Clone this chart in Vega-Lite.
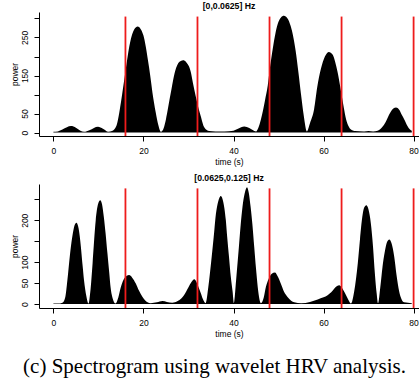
{
  "$schema": "https://vega.github.io/schema/vega-lite/v6.json",
  "padding": {"left": 10, "top": 2, "right": 0, "bottom": 5},
  "spacing": 8,
  "title": {"text": "(c) Spectrogram using wavelet HRV analysis.", "orient": "bottom", "anchor": "middle", "offset": 18, "font": "Liberation Serif", "fontSize": 21, "fontWeight": "normal", "color": "#000"},
  "datasets": {
    "p1": [
      {"t":0,"v":2},{"t":1,"v":3},{"t":2,"v":8},{"t":3,"v":14},{"t":3.9,"v":17},{"t":5,"v":13},{"t":6,"v":5},{"t":6.8,"v":2},
      {"t":8,"v":6},{"t":9,"v":12},{"t":9.9,"v":15},{"t":11,"v":10},{"t":12.2,"v":2},{"t":13,"v":4},{"t":14,"v":18},
      {"t":15,"v":80},{"t":15.5,"v":120},{"t":16,"v":160},{"t":17,"v":235},{"t":18,"v":272},{"t":18.7,"v":279},{"t":19.5,"v":270},
      {"t":20,"v":255},{"t":21,"v":190},{"t":21.5,"v":150},{"t":22,"v":105},{"t":22.7,"v":55},{"t":23.3,"v":20},{"t":23.9,"v":2},
      {"t":24.5,"v":12},{"t":25,"v":35},{"t":26,"v":100},{"t":27,"v":160},{"t":28,"v":186},{"t":28.8,"v":190},{"t":29.5,"v":185},
      {"t":30.5,"v":160},{"t":31,"v":130},{"t":31.6,"v":96},{"t":32,"v":75},{"t":32.7,"v":44},{"t":33.5,"v":14},{"t":34.6,"v":4},
      {"t":36,"v":3},{"t":38,"v":3},{"t":40,"v":5},{"t":41,"v":10},{"t":42.4,"v":16},{"t":43.5,"v":12},{"t":45,"v":3},
      {"t":45.5,"v":12},{"t":46.1,"v":35},{"t":47,"v":85},{"t":47.6,"v":123},{"t":48.2,"v":180},{"t":48.7,"v":219},{"t":49.3,"v":260},
      {"t":49.8,"v":285},{"t":50.5,"v":302},{"t":51.2,"v":307},{"t":52,"v":300},{"t":52.7,"v":280},{"t":53.3,"v":250},{"t":53.8,"v":215},
      {"t":54.4,"v":160},{"t":55,"v":100},{"t":55.6,"v":45},{"t":56.3,"v":3},{"t":57,"v":25},{"t":57.9,"v":61},{"t":58.6,"v":120},
      {"t":59.4,"v":167},{"t":60.3,"v":200},{"t":61.2,"v":212},{"t":62,"v":205},{"t":62.6,"v":185},{"t":63.1,"v":160},{"t":63.6,"v":128},
      {"t":64,"v":100},{"t":64.5,"v":65},{"t":65,"v":35},{"t":65.5,"v":18},{"t":66.1,"v":8},{"t":67,"v":4},{"t":69,"v":3},{"t":70,"v":4},
      {"t":71,"v":3},{"t":72,"v":5},{"t":73,"v":14},{"t":73.8,"v":28},{"t":74.8,"v":52},{"t":75.5,"v":63},{"t":76.1,"v":66},
      {"t":76.8,"v":60},{"t":77.4,"v":46},{"t":77.9,"v":35},{"t":78.6,"v":18},{"t":79.2,"v":8},{"t":79.6,"v":5}
    ],
    "p2": [
      {"t":0,"v":1},{"t":1,"v":1},{"t":2,"v":3},{"t":2.6,"v":15},{"t":3.1,"v":57},{"t":3.6,"v":110},{"t":4.2,"v":161},{"t":4.7,"v":188},
      {"t":5.1,"v":194},{"t":5.6,"v":180},{"t":6.1,"v":137},{"t":6.5,"v":90},{"t":6.8,"v":57},{"t":7.3,"v":20},{"t":7.8,"v":1},
      {"t":8.2,"v":30},{"t":8.7,"v":97},{"t":9.4,"v":200},{"t":9.9,"v":238},{"t":10.4,"v":248},{"t":10.8,"v":238},{"t":11.2,"v":208},
      {"t":11.6,"v":168},{"t":12,"v":121},{"t":12.4,"v":75},{"t":12.7,"v":40},{"t":13.2,"v":12},{"t":13.8,"v":1},{"t":14.4,"v":15},
      {"t":15,"v":41},{"t":15.8,"v":62},{"t":16.8,"v":69},{"t":17.5,"v":63},{"t":18.3,"v":49},{"t":19,"v":32},{"t":19.8,"v":17},
      {"t":20.9,"v":4},{"t":21.6,"v":2},{"t":23,"v":4},{"t":24.2,"v":7},{"t":25.2,"v":5},{"t":26.4,"v":3},{"t":27.6,"v":7},
      {"t":28.4,"v":13},{"t":29,"v":21},{"t":30,"v":40},{"t":30.7,"v":53},{"t":31.3,"v":59},{"t":31.8,"v":52},{"t":32.3,"v":38},
      {"t":32.7,"v":27},{"t":33.2,"v":12},{"t":33.8,"v":2},{"t":34.4,"v":40},{"t":35,"v":97},{"t":35.6,"v":160},{"t":36.1,"v":216},
      {"t":36.6,"v":245},{"t":37.2,"v":258},{"t":37.7,"v":245},{"t":38.3,"v":200},{"t":38.6,"v":160},{"t":39,"v":113},{"t":39.4,"v":65},
      {"t":39.8,"v":30},{"t":40.1,"v":2},{"t":40.6,"v":60},{"t":41.2,"v":137},{"t":41.6,"v":190},{"t":42,"v":232},{"t":42.5,"v":265},
      {"t":43,"v":279},{"t":43.4,"v":265},{"t":43.8,"v":232},{"t":44.2,"v":190},{"t":44.6,"v":137},{"t":45,"v":85},{"t":45.5,"v":30},
      {"t":46.1,"v":2},{"t":46.7,"v":15},{"t":47.2,"v":41},{"t":47.8,"v":60},{"t":48.5,"v":72},{"t":49.2,"v":75},{"t":49.8,"v":66},
      {"t":50.5,"v":49},{"t":51.2,"v":30},{"t":52,"v":17},{"t":52.8,"v":8},{"t":53.5,"v":4},{"t":55,"v":2},{"t":57,"v":5},
      {"t":58.7,"v":11},{"t":60,"v":16},{"t":60.9,"v":21},{"t":61.7,"v":28},{"t":62.4,"v":37},{"t":63,"v":43},{"t":63.5,"v":45},
      {"t":64,"v":40},{"t":64.5,"v":31},{"t":65,"v":21},{"t":65.5,"v":10},{"t":66.1,"v":1},{"t":66.8,"v":30},{"t":67.6,"v":97},
      {"t":68.1,"v":155},{"t":68.6,"v":208},{"t":69,"v":230},{"t":69.5,"v":236},{"t":70,"v":225},{"t":70.5,"v":193},{"t":71,"v":135},
      {"t":71.4,"v":73},{"t":71.8,"v":25},{"t":72.1,"v":2},{"t":72.6,"v":40},{"t":73.1,"v":89},{"t":73.6,"v":125},{"t":74.1,"v":148},
      {"t":74.6,"v":154},{"t":75.1,"v":145},{"t":75.7,"v":113},{"t":76.2,"v":70},{"t":76.8,"v":30},{"t":77.3,"v":12},{"t":77.9,"v":4},
      {"t":79.6,"v":2}
    ],
    "l1": [{"x":16,"lo":-9,"hi":305},{"x":32,"lo":-9,"hi":305},{"x":48,"lo":-9,"hi":305},{"x":64,"lo":-9,"hi":305},{"x":80,"lo":-9,"hi":305}],
    "l2": [{"x":16,"lo":-9.5,"hi":276},{"x":32,"lo":-9.5,"hi":276},{"x":48,"lo":-9.5,"hi":276},{"x":64,"lo":-9.5,"hi":276},{"x":80,"lo":-9.5,"hi":276}]
  },
  "vconcat": [
    {
      "width": 380, "height": 124,
      "title": {"text": "[0,0.0625] Hz", "font": "Liberation Sans", "fontSize": 8.7, "fontWeight": "bold", "color": "#000", "anchor": "middle", "offset": 1},
      "layer": [
        {
          "data": {"name": "p1"},
          "mark": {"type": "area", "color": "#000", "interpolate": "monotone", "opacity": 1},
          "encoding": {
            "x": {"field": "t", "type": "quantitative", "scale": {"domain": [-3.2, 81.2], "nice": false, "zero": false},
                  "axis": {"title": "time (s)", "values": [0, 20, 40, 60, 80], "tickCount": 20, "labelPadding": 5, "titlePadding": 3, "labelFlush": false}},
            "y": {"field": "v", "type": "quantitative", "scale": {"domain": [-9, 317], "nice": false, "zero": false},
                  "axis": {"title": "power", "values": [0, 50, 100, 150, 200, 250, 300], "tickCount": 20, "labelExpr": "(datum.value == 100 || datum.value == 200 || datum.value == 300) ? '' : datum.label", "labelOverlap": false, "labelFlush": false, "labelAngle": 270, "labelAlign": "center", "labelBaseline": "middle", "labelPadding": 9.5, "minExtent": 19, "maxExtent": 19, "titlePadding": 1}},
            "y2": {"datum": 0}
          }
        },
        {
          "data": {"name": "l1"},
          "mark": {"type": "rule", "color": "#ee1c1c", "strokeWidth": 1.8},
          "encoding": {"x": {"field": "x", "type": "quantitative"}, "y": {"field": "lo", "type": "quantitative"}, "y2": {"field": "hi"}}
        },
        {
          "mark": {"type": "rule", "color": "#000", "strokeWidth": 1},
          "encoding": {"y": {"datum": 317, "type": "quantitative"}}
        }
      ]
    },
    {
      "width": 380, "height": 124,
      "title": {"text": "[0.0625,0.125] Hz", "font": "Liberation Sans", "fontSize": 8.7, "fontWeight": "bold", "color": "#000", "anchor": "middle", "offset": 1},
      "layer": [
        {
          "data": {"name": "p2"},
          "mark": {"type": "area", "color": "#000", "interpolate": "monotone", "opacity": 1},
          "encoding": {
            "x": {"field": "t", "type": "quantitative", "scale": {"domain": [-3.2, 81.2], "nice": false, "zero": false},
                  "axis": {"title": "time (s)", "values": [0, 20, 40, 60, 80], "tickCount": 20, "labelPadding": 5, "titlePadding": 3, "labelFlush": false}},
            "y": {"field": "v", "type": "quantitative", "scale": {"domain": [-9.5, 286.5], "nice": false, "zero": false},
                  "axis": {"title": "power", "values": [0, 50, 100, 150, 200, 250], "tickCount": 20, "labelExpr": "(datum.value == 150 || datum.value == 250) ? '' : datum.label", "labelOverlap": false, "labelFlush": false, "labelAngle": 270, "labelAlign": "center", "labelBaseline": "middle", "labelPadding": 9.5, "minExtent": 19, "maxExtent": 19, "titlePadding": 1}},
            "y2": {"datum": 0}
          }
        },
        {
          "data": {"name": "l2"},
          "mark": {"type": "rule", "color": "#ee1c1c", "strokeWidth": 1.8},
          "encoding": {"x": {"field": "x", "type": "quantitative"}, "y": {"field": "lo", "type": "quantitative"}, "y2": {"field": "hi"}}
        },
        {
          "mark": {"type": "rule", "color": "#000", "strokeWidth": 1},
          "encoding": {"y": {"datum": 286.5, "type": "quantitative"}}
        }
      ]
    }
  ],
  "config": {
    "view": {"stroke": null},
    "axis": {"labelFont": "Liberation Sans", "titleFont": "Liberation Sans", "labelFontSize": 8.5, "titleFontSize": 8.5, "titleFontWeight": "normal", "labelColor": "#000", "titleColor": "#000", "domainColor": "#000", "domainWidth": 1, "tickColor": "#000", "tickWidth": 1, "tickSize": 5, "grid": false}
  }
}
